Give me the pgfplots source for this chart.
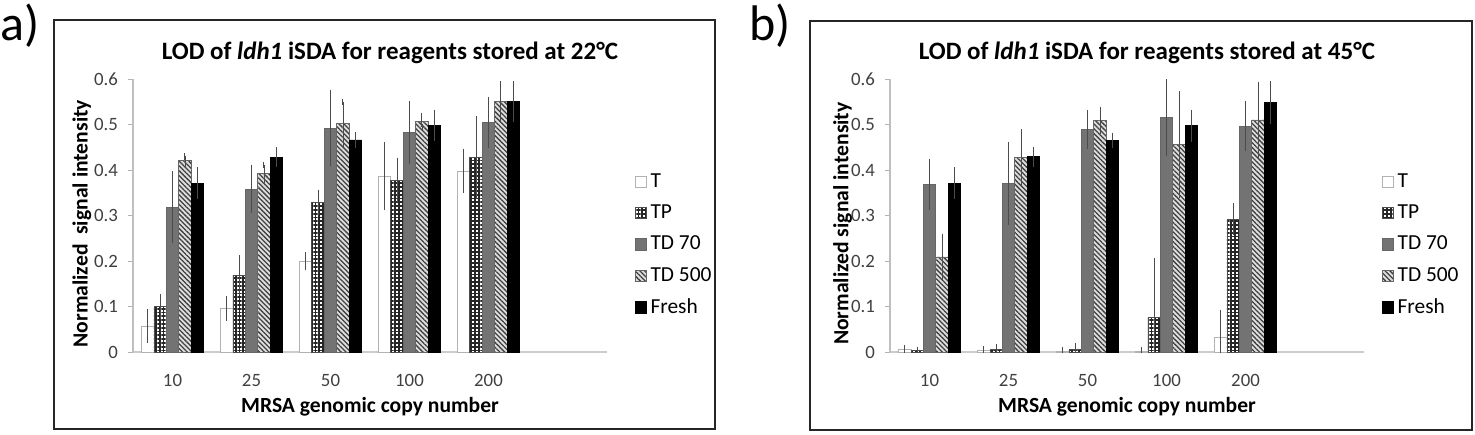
\documentclass[border=0pt]{standalone}
\usepackage{pgfplots}
\pgfplotsset{compat=1.18}
\usepackage{pgfplotstable}
\usepackage{fontspec}
\setmainfont{Carlito}
\usetikzlibrary{patterns,patterns.meta}

% panel a: reagents stored at 22 C
\pgfplotstableread{
x T Te TP TPe TDa TDae TDb TDbe Fr Fre
1 0.057 0.030 0.100 0.020 0.318 0.072 0.421 0.009 0.371 0.028
2 0.096 0.020 0.169 0.037 0.358 0.046 0.392 0.019 0.428 0.015
3 0.200 0.013 0.329 0.021 0.492 0.077 0.503 0.047 0.466 0.011
4 0.387 0.067 0.378 0.042 0.483 0.062 0.507 0.012 0.498 0.027
5 0.398 0.042 0.428 0.084 0.505 0.049 0.550 0.038 0.550 0.038
}\dataA
% panel b: reagents stored at 45 C
\pgfplotstableread{
x T Te TP TPe TDa TDae TDb TDbe Fr Fre
1 0.006 0.003 0.003 0.002 0.369 0.049 0.209 0.044 0.371 0.028
2 0.004 0.002 0.006 0.004 0.371 0.084 0.428 0.054 0.429 0.015
3 0.002 0.001 0.005 0.008 0.489 0.035 0.509 0.023 0.465 0.010
4 0.002 0.001 0.076 0.123 0.515 0.078 0.456 0.110 0.497 0.028
5 0.031 0.055 0.292 0.028 0.496 0.048 0.510 0.077 0.549 0.040
}\dataB

\pgfplotsset{
  lodaxis/.style={
    scale only axis, width=237pt, height=136.5pt,
    anchor=south west,
    ybar=0pt, bar width=6.2pt,
    xmin=0.5, xmax=6.5, ymin=0, ymax=0.6,
    xtick={1,...,5}, xticklabels={10,25,50,100,200},
    ytick={0,0.1,...,0.6},
    axis x line*=bottom, axis y line*=left,
    x axis line style={-, draw=gray!40, line width=1.3pt},
    y axis line style={-, draw=gray!50, line width=0.6pt},
    x tick style={draw=none},
    y tick style={draw=gray!60, line width=0.5pt},
    tick align=outside, major tick length=2.5pt,
    /pgf/number format/assume math mode=true,
    /pgf/number format/fixed, /pgf/number format/precision=1,
    tick label style={font=\fontsize{9.4}{11}\selectfont, text=black!75},
    xticklabel shift=5pt,
    yticklabel shift=1.5pt,
    label style={font=\bfseries\fontsize{10.8}{12}\selectfont},
    xlabel={MRSA genomic copy number},
    xlabel shift=-1.5pt,
    every axis title shift=0pt,
    title style={at={(axis description cs:0.542,1.095)}, anchor=center, yshift=0pt,
      font=\bfseries\fontsize{12.5}{14}\selectfont},
    legend style={draw=none, fill=none, inner sep=0pt, anchor=west,
      font=\fontsize{10.7}{12}\selectfont, row sep=3.2pt,
      legend cell align=left},
    legend image code/.code={\draw[##1] (0pt,-2.8pt) rectangle (5.2pt,2.8pt);},
    error bars/y dir=both, error bars/y explicit,
    error bars/error bar style={draw=black!70, line width=0.4pt},
    error bars/error mark options={draw=black!70, line width=0.4pt, mark size=1.6pt},
  },
  sT/.style={draw=gray!60, fill=white, line width=0.4pt},
  sTP/.style={draw=black!70, fill=white, line width=0.4pt,
    postaction={pattern={Hatch[distance=1.9pt, line width=0.9pt]}, pattern color=black!85}},
  sTDa/.style={draw=black!60, fill=black!55, line width=0.4pt},
  sTDb/.style={draw=black!60, fill=gray!25, line width=0.4pt,
    postaction={pattern={Lines[angle=-45, distance=1.7pt, line width=0.65pt]}, pattern color=black!75}},
  sFr/.style={draw=black, fill=black, line width=0.4pt},
}

\begin{document}
\begin{tikzpicture}
\useasboundingbox (0,0) rectangle (737.5pt,217pt);
% panel frames and letters
\draw[line width=1.3pt, black!85] (27pt,2.5pt) rectangle (357.5pt,207pt);
\draw[line width=1.3pt, black!85] (405pt,2pt) rectangle (736pt,206.5pt);
\node[font=\fontsize{25}{28}\selectfont] at (10pt,204pt) {a)};
\node[font=\fontsize{25}{28}\selectfont] at (385pt,204pt) {b)};

\begin{axis}[lodaxis, at={(66.5pt,41pt)},
  title={LOD of \textit{ldh1} iSDA for reagents stored at 22°C},
  ylabel={Normalized\ \ signal intensity},
  ylabel style={at={(axis description cs:-0.108,0.47)}, anchor=center},
  legend style={at={(axis description cs:1.059,0.392)}}]
  \addplot[sT] table[x=x, y=T, y error=Te] {\dataA};
  \addlegendentry{T}
  \addplot[sTP] table[x=x, y=TP, y error=TPe] {\dataA};
  \addlegendentry{TP}
  \addplot[sTDa] table[x=x, y=TDa, y error=TDae] {\dataA};
  \addlegendentry{TD 70}
  \addplot[sTDb] table[x=x, y=TDb, y error=TDbe] {\dataA};
  \addlegendentry{TD 500}
  \addplot[sFr] table[x=x, y=Fr, y error=Fre] {\dataA};
  \addlegendentry{Fresh}
\end{axis}

\begin{axis}[lodaxis, at={(445pt,41pt)},
  title={LOD of \textit{ldh1} iSDA for reagents stored at 45°C},
  ylabel={Normalized signal intensity},
  ylabel style={at={(axis description cs:-0.10,0.47)}, anchor=center},
  legend style={at={(axis description cs:1.038,0.392)}}]
  \addplot[sT] table[x=x, y=T, y error=Te] {\dataB};
  \addlegendentry{T}
  \addplot[sTP] table[x=x, y=TP, y error=TPe] {\dataB};
  \addlegendentry{TP}
  \addplot[sTDa] table[x=x, y=TDa, y error=TDae] {\dataB};
  \addlegendentry{TD 70}
  \addplot[sTDb] table[x=x, y=TDb, y error=TDbe] {\dataB};
  \addlegendentry{TD 500}
  \addplot[sFr] table[x=x, y=Fr, y error=Fre] {\dataB};
  \addlegendentry{Fresh}
\end{axis}
\end{tikzpicture}
\end{document}
